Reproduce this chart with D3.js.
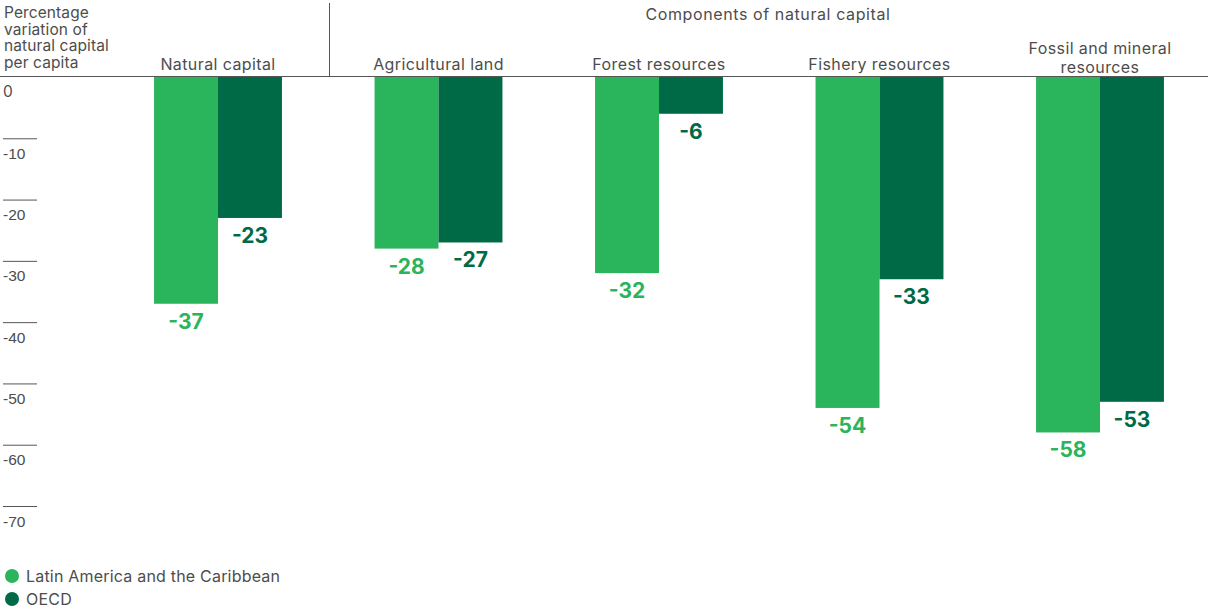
<!DOCTYPE html>
<html>
<head>
<meta charset="utf-8">
<script src="https://cdn.jsdelivr.net/npm/d3@7"></script>
<style>
  html, body { margin: 0; padding: 0; background: #fff; }
  svg { display: block; font-family: Inter, "Liberation Sans", sans-serif; }
</style>
</head>
<body>
<svg id="chart" width="1208" height="611"></svg>
<script>
// Categories (first is the aggregate, the rest are its components)
const categories = ["Natural capital", "Agricultural land", "Forest resources", "Fishery resources", "Fossil and mineral resources"];
const categoryLines = [["Natural capital"], ["Agricultural land"], ["Forest resources"], ["Fishery resources"], ["Fossil and mineral", "resources"]];
const seriesNames = ["Latin America and the Caribbean", "OECD"];
const lacValues = [-37, -28, -32, -54, -58];
const oecdValues = [-23, -27, -6, -33, -53];
const yTicks = [0, -10, -20, -30, -40, -50, -60, -70];

const colors = { "Latin America and the Caribbean": "#2ab45b", "OECD": "#006a46" };
const textColor = "#4d4d4d";
const fmt = d => String(d); // plain hyphen-minus

const svg = d3.select("#chart");
const width = 1208;

const rows = categories.map((c, i) => ({
  category: c,
  lines: categoryLines[i],
  values: [
    { series: seriesNames[0], value: lacValues[i] },
    { series: seriesNames[1], value: oecdValues[i] }
  ]
}));

const y = d3.scaleLinear().domain([0, -70]).range([77, 506]);
const x0 = d3.scaleBand().domain(categories).range([107.75, 1210.25]).paddingInner(0.42).paddingOuter(0.21);
const x1 = d3.scaleBand().domain(seriesNames).range([0, x0.bandwidth()]);

// Y axis: short rules with labels hanging below them
const yAxis = d3.axisRight(y).tickValues(yTicks.filter(t => t !== 0)).tickSize(34).tickFormat(fmt);
const ya = svg.append("g").attr("transform", "translate(3,0)").call(yAxis);
ya.select(".domain").remove();
ya.selectAll(".tick line").attr("stroke", "#555").attr("stroke-width", 1);
ya.selectAll(".tick text")
  .attr("x", 0).attr("dy", 0).attr("y", 20)
  .attr("text-anchor", "start")
  .attr("fill", textColor)
  .style("font-size", "15.5px");
// zero label (its rule is the baseline)
svg.append("text").attr("x", 3).attr("y", y(0) + 20)
  .attr("fill", textColor).style("font-size", "15.5px").text(fmt(yTicks[0]));

// Y axis title
const titleLines = ["Percentage", "variation of", "natural capital", "per capita"];
svg.append("text").attr("fill", textColor).style("font-size", "15.5px").style("letter-spacing", "0.1px")
  .selectAll("tspan").data(titleLines).join("tspan")
  .attr("x", 4).attr("y", (d, i) => 18 + i * 16.7).text(d => d);

// Header: separator and group caption
svg.append("line").attr("x1", 329.5).attr("x2", 329.5).attr("y1", 3).attr("y2", 77)
  .attr("stroke", "#555").attr("stroke-width", 1);
svg.append("text").attr("x", 768).attr("y", 20).attr("text-anchor", "middle")
  .attr("fill", textColor).style("font-size", "16px").style("letter-spacing", "0.6px")
  .text("Components of natural capital");

// Category labels (two-line labels sit a little lower)
const catLabels = svg.append("g").selectAll("text").data(rows).join("text")
  .attr("text-anchor", "middle")
  .attr("fill", textColor).style("font-size", "16px").style("letter-spacing", "0.4px")
  .attr("transform", d => `translate(${x0(d.category) + x0.bandwidth() / 2},0)`);
catLabels.selectAll("tspan").data(d => d.lines.map((l, i) => ({ l, i, n: d.lines.length }))).join("tspan")
  .attr("x", 0)
  .attr("y", d => d.n === 1 ? 70 : 73 - (d.n - 1 - d.i) * 19)
  .text(d => d.l);

// Bars
const groups = svg.append("g").selectAll("g").data(rows).join("g")
  .attr("transform", d => `translate(${x0(d.category)},0)`);
groups.selectAll("rect").data(d => d.values).join("rect")
  .attr("x", d => x1(d.series))
  .attr("width", x1.bandwidth())
  .attr("y", y(0))
  .attr("height", d => y(d.value) - y(0))
  .attr("fill", d => colors[d.series]);

// Value labels
groups.selectAll("text").data(d => d.values).join("text")
  .attr("x", d => x1(d.series) + x1.bandwidth() / 2)
  .attr("y", d => y(d.value) + 25)
  .attr("text-anchor", "middle")
  .attr("fill", d => colors[d.series])
  .style("font-size", "21px").style("font-weight", "700")
  .text(d => fmt(d.value));

// Baseline
svg.append("line").attr("x1", 0).attr("x2", width).attr("y1", y(0) - 0.5).attr("y2", y(0) - 0.5)
  .attr("stroke", "#555").attr("stroke-width", 1);

// Legend
const legend = svg.append("g").selectAll("g").data(seriesNames).join("g")
  .attr("transform", (d, i) => `translate(0,${576 + i * 23})`);
legend.append("circle").attr("cx", 12).attr("cy", 0).attr("r", 7).attr("fill", d => colors[d]);
legend.append("text").attr("x", 26).attr("y", 6).attr("fill", textColor)
  .style("font-size", "16px").style("letter-spacing", "0.2px").text(d => d);
</script>
</body>
</html>
